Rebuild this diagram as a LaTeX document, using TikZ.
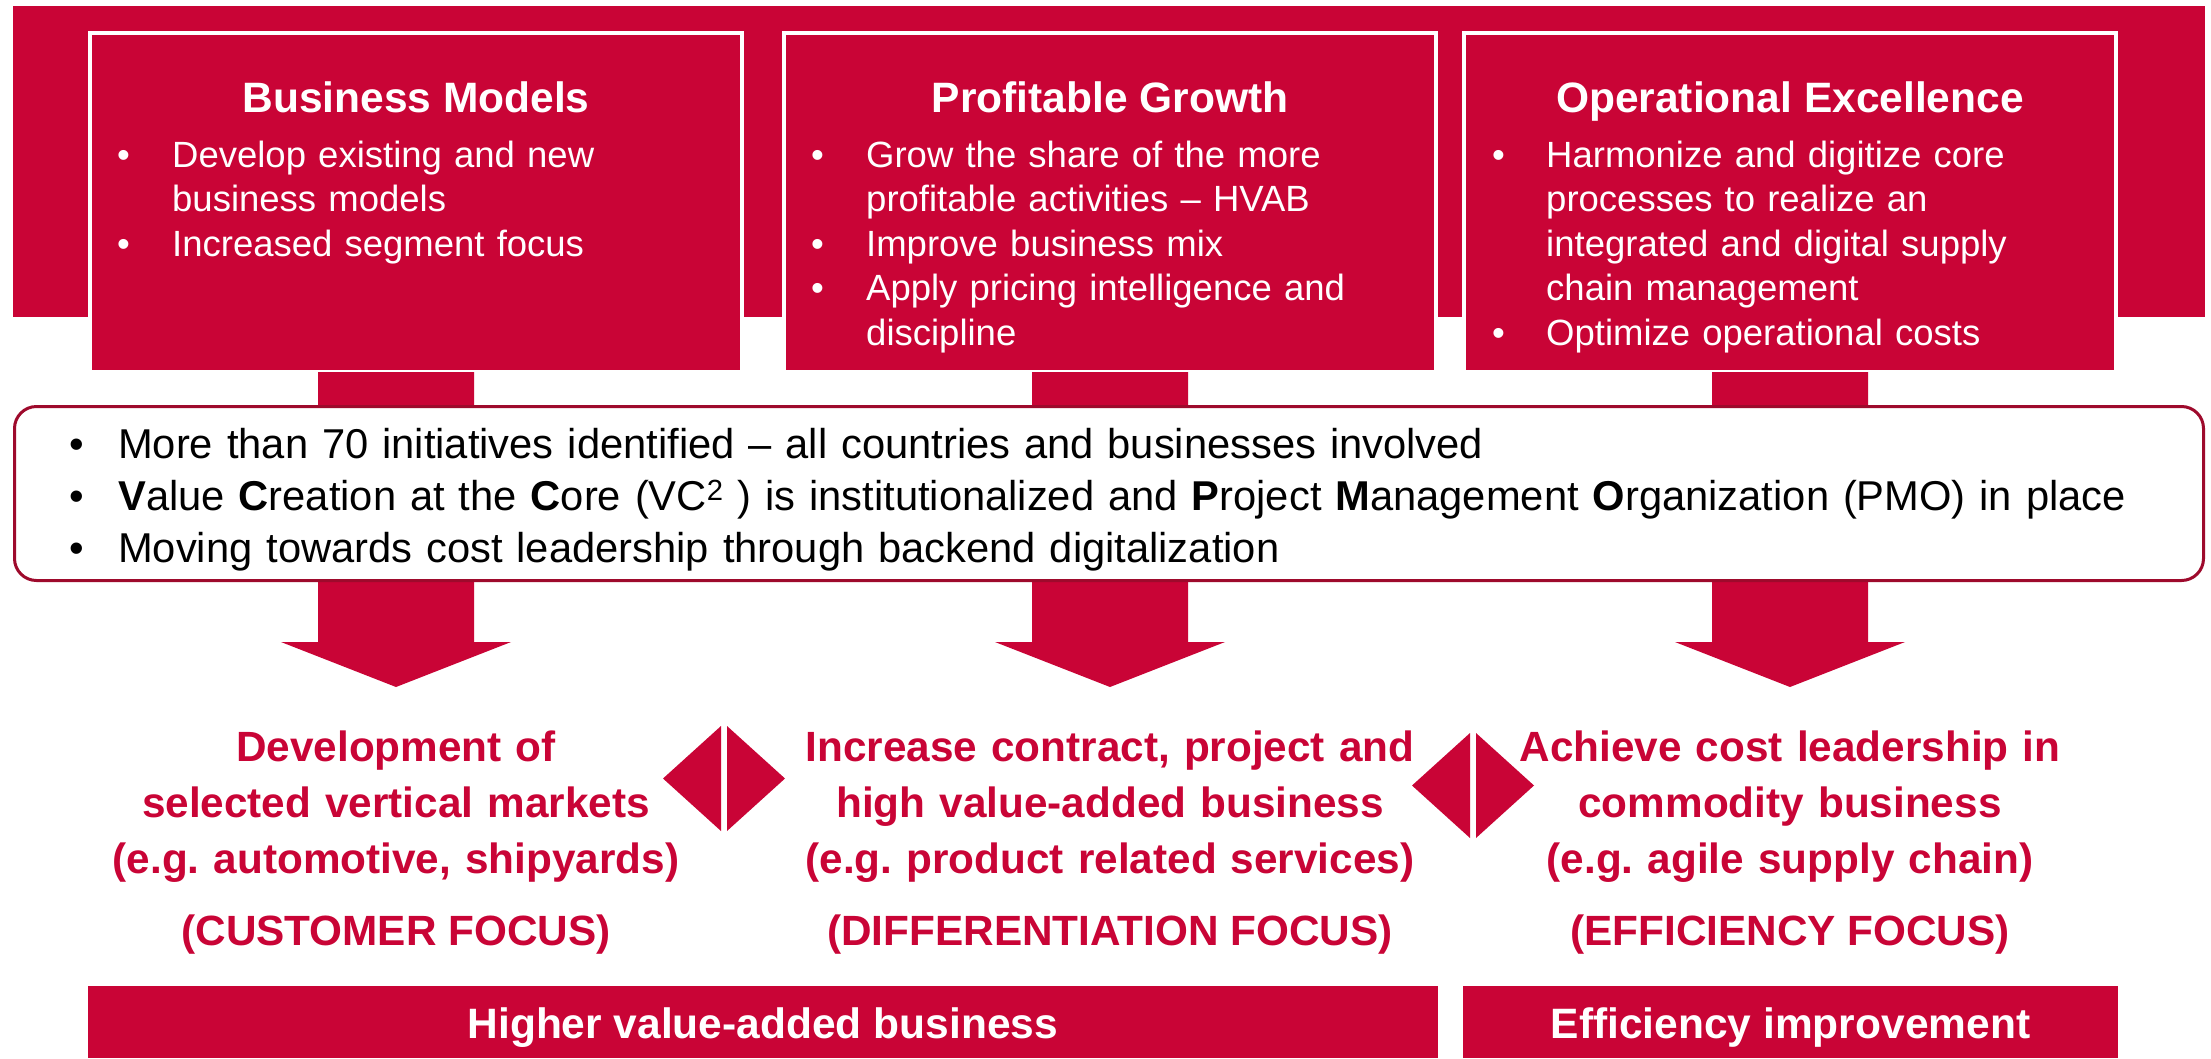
\documentclass[tikz,border=0pt]{standalone}
\usepackage{fontspec}
\setmainfont{Liberation Sans}
\definecolor{brandred}{RGB}{201,4,54}
\definecolor{framered}{RGB}{158,10,44}

% bullet line: bullet in a fixed-width slot, then the text
\newcommand\bfirst[2]{\noindent\makebox[#1][l]{\textbullet}#2\par}
% continuation line of a bullet item, aligned with its text
\newcommand\bnext[2]{\noindent\hspace*{#1}#2\par}

\tikzset{
  band/.style={rectangle, fill=brandred, inner sep=0pt},
  pillar/.style={rectangle, fill=brandred, draw=white, line width=4pt, inner sep=0pt},
  pillartitle/.style={anchor=base, inner sep=0pt, text=white,
    font=\bfseries\fontsize{42.5}{50}\selectfont},
  pillarlist/.style={anchor=base west, inner sep=0pt, text=white, align=left,
    text width=2000pt, font=\fontsize{36.5}{44.5}\selectfont},
  panel/.style={rectangle, rounded corners=22pt, fill=white, draw=framered,
    line width=3pt, inner sep=0pt},
  panellist/.style={anchor=base west, inner sep=0pt, text=black, align=left,
    text width=2120pt, font=\fontsize{41.7}{52}\selectfont},
  goal/.style={anchor=base, inner sep=0pt, text=brandred, align=center,
    text width=900pt, font=\bfseries\fontsize{42.3}{56}\selectfont},
  focus/.style={anchor=base, inner sep=0pt, text=brandred,
    font=\bfseries\fontsize{42.3}{50}\selectfont},
  bar/.style={rectangle, fill=brandred, inner sep=0pt},
  barlabel/.style={anchor=base, inner sep=0pt, text=white,
    font=\bfseries\fontsize{42.5}{50}\selectfont},
  bigarrow/.pic={
    \fill[brandred] (-78,0) -- (78,0) -- (78,270) -- (115,270) -- (0,315)
      -- (-115,270) -- (-78,270) -- cycle;
  },
  splitdiamond/.pic={
    \fill[brandred] (-3,-52.5) -- (-61,0) -- (-3,52.5) -- cycle;
    \fill[brandred] (3,-52.5) -- (61,0) -- (3,52.5) -- cycle;
  }
}

\begin{document}
\begin{tikzpicture}[x=1pt,y=-1pt]
\useasboundingbox (0,0) rectangle (2211,1058);
\fill[white] (0,0) rectangle (2211,1058);

% background band behind the three pillars
\node[band, minimum width=2192.5pt, minimum height=311pt] (band) at (1108.75,161.5) {};

% three pillars
\node[pillar, minimum width=652pt, minimum height=339.5pt] (bm) at (416,202.25) {};
\node[pillar, minimum width=652pt, minimum height=339.5pt] (pg) at (1110,202.25) {};
\node[pillar, minimum width=652pt, minimum height=339.5pt] (oe) at (1790,202.25) {};

% block arrows running down from each pillar
\pic at (396,372) {bigarrow};
\pic at (1110,372) {bigarrow};
\pic at (1790,372) {bigarrow};

% pillar contents
\node[pillartitle] (bmt) at (416,112) {Business Models};
\node[pillartitle] (pgt) at (1110,112) {Profitable Growth};
\node[pillartitle] (oet) at (1790,112) {Operational Excellence};

\node[pillarlist] (bml) at (117,167) {%
  \bfirst{55pt}{Develop existing and new}
  \bnext{55pt}{business models}
  \bfirst{55pt}{Increased segment focus}};
\node[pillarlist] (pgl) at (811,167) {%
  \bfirst{55pt}{Grow the share of the more}
  \bnext{55pt}{profitable activities – HVAB}
  \bfirst{55pt}{Improve business mix}
  \bfirst{55pt}{Apply pricing intelligence and}
  \bnext{55pt}{discipline}};
\node[pillarlist] (oel) at (1492,167) {%
  \bfirst{54pt}{Harmonize and digitize core}
  \bnext{54pt}{processes to realize an}
  \bnext{54pt}{integrated and digital supply}
  \bnext{54pt}{chain management}
  \bfirst{54pt}{Optimize operational costs}};

% central panel
\node[panel, minimum width=2189pt, minimum height=174pt] (vc) at (1109,493.5) {};
\node[panellist] (vcl) at (69,458) {%
  \bfirst{49pt}{More than 70 initiatives identified – all countries and businesses involved}
  \bfirst{49pt}{\textbf{V}alue \textbf{C}reation at the \textbf{C}ore (VC\textsuperscript{2} ) is institutionalized and \textbf{P}roject \textbf{M}anagement \textbf{O}rganization (PMO) in place}
  \bfirst{49pt}{Moving towards cost leadership through backend digitalization}};

% resulting focus areas
\node[goal] (cust) at (396,761) {Development of\\selected vertical markets\\(e.g.\ automotive, shipyards)};
\node[goal] (diff) at (1110,761) {Increase contract, project and\\high value-added business\\(e.g.\ product related services)};
\node[goal] (effi) at (1790,761) {Achieve cost leadership in\\commodity business\\(e.g.\ agile supply chain)};

\node[focus] (custf) at (396,945) {(CUSTOMER FOCUS)};
\node[focus] (difff) at (1110,945) {(DIFFERENTIATION FOCUS)};
\node[focus] (effif) at (1790,945) {(EFFICIENCY FOCUS)};

% split diamonds between the focus areas
\pic at (724,778.5) {splitdiamond};
\pic at (1473,785.5) {splitdiamond};

% summary bars
\node[bar, minimum width=1349.5pt, minimum height=72pt] (hvab) at (762.75,1022) {};
\node[bar, minimum width=655pt, minimum height=72pt] (effb) at (1790.5,1022) {};
\node[barlabel] (hvabt) at (762.75,1038) {Higher value-added business};
\node[barlabel] (effbt) at (1790.5,1038) {Efficiency improvement};
\end{tikzpicture}
\end{document}
